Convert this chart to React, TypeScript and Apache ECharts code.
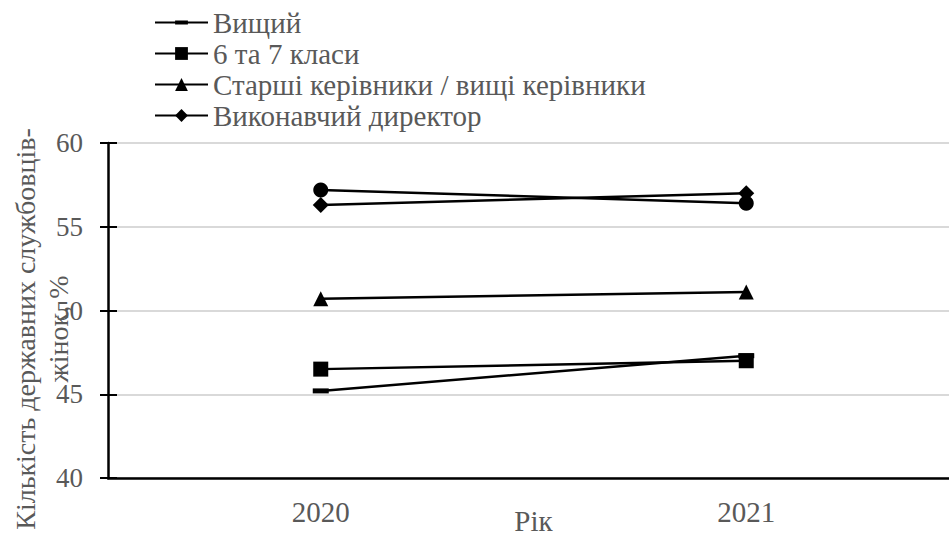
import React, { useEffect, useRef } from "react";
import * as echarts from "echarts";

const years = ["2020", "2021"];
const seriesNames = [
  "Вищий",
  "6 та 7 класи",
  "Старші керівники / вищі керівники",
  "Виконавчий директор",
];
const vyshchyi = [45.2, 47.3];
const klasy67 = [46.5, 47.0];
const starshi = [50.7, 51.1];
const vykonavchyi = [56.3, 57.0];
const kruh = [57.2, 56.4];
const yTitle = "Кількість державних службовців-\nжінок, %";
const xTitle = "Рік";

const FONT = "Liberation Serif";
const GREY = "#595959";
const DASH = "path://M0,-5.5 L0,-5.5 M0,0 H16 V5 H0 Z M16,10.5 L16,10.5";

export default function App() {
  const ref = useRef<HTMLDivElement>(null);
  useEffect(() => {
    if (!ref.current) return;
    const chart = echarts.init(ref.current, null, { renderer: "svg" });
    const lineStyle = { color: "#000", width: 2.5 };
    const mk = (name: string, data: number[], symbol: string, size: any) => ({
      name,
      type: "line",
      data,
      symbol,
      symbolSize: size,
      showSymbol: true,
      lineStyle,
      itemStyle: { color: "#000" },
      xAxisIndex: 0,
      yAxisIndex: 0,
      z: 5,
    });
    chart.setOption({
      animation: false,
      backgroundColor: "#fff",
      textStyle: { fontFamily: FONT },
      grid: { left: 108, right: -10, top: 143, bottom: 57, containLabel: false, outerBoundsMode: "none" },
      legend: {
        data: seriesNames,
        orient: "vertical",
        left: 149,
        top: 3,
        itemWidth: 53,
        itemHeight: 16,
        itemGap: 2,
        textStyle: { fontSize: 29, color: GREY, fontFamily: FONT, lineHeight: 29 },
      },
      xAxis: [
        {
          type: "category",
          data: years,
          boundaryGap: true,
          name: xTitle,
          nameLocation: "middle",
          nameGap: 28,
          nameMoveOverlap: false,
          nameTextStyle: { fontSize: 29, color: GREY, fontFamily: FONT, lineHeight: 29 },
          axisLine: { lineStyle: { color: "#000", width: 2.5 } },
          axisTick: { alignWithLabel: true, length: 6, lineStyle: { color: "#000", width: 2 } },
          axisLabel: { fontSize: 29, color: GREY, fontFamily: FONT, margin: 19 },
          splitLine: { show: false },
          z: 10,
        },
        {
          type: "category",
          data: years,
          boundaryGap: true,
          position: "bottom",
          axisLine: { show: false },
          axisTick: { inside: true, alignWithLabel: true, length: 6, lineStyle: { color: "#000", width: 2 } },
          axisLabel: { show: false },
          splitLine: { show: false },
          z: 10,
        },
      ],
      yAxis: [
        {
          type: "value",
          min: 40,
          max: 60,
          interval: 5,
          axisLine: { show: true, lineStyle: { color: "#000", width: 2.5 } },
          axisTick: { show: true, length: 8, lineStyle: { color: "#000", width: 2 } },
          axisLabel: { fontSize: 27, color: GREY, fontFamily: FONT, margin: 25 },
          splitLine: { show: true, lineStyle: { color: "#d9d9d9", width: 2 } },
          z: 10,
        },
        {
          type: "value",
          min: 40,
          max: 60,
          interval: 5,
          position: "left",
          axisLine: { show: false },
          axisTick: { show: true, inside: true, length: 9, lineStyle: { color: "#000", width: 2 } },
          axisLabel: { show: false },
          splitLine: { show: false },
          z: 10,
        },
      ],
      graphic: [
        {
          type: "text",
          x: 42,
          y: 329,
          rotation: Math.PI / 2,
          style: {
            text: yTitle,
            fontSize: 28,
            lineHeight: 33,
            fill: GREY,
            fontFamily: FONT,
            align: "center",
            verticalAlign: "middle",
          },
        },
      ],
      series: [
        mk("Кругові", kruh, "circle", 15),
        mk(seriesNames[0], vyshchyi, DASH, 16),
        mk(seriesNames[1], klasy67, "rect", 15),
        mk(seriesNames[2], starshi, "triangle", 15),
        mk(seriesNames[3], vykonavchyi, "diamond", 16),
      ],
    });
    return () => chart.dispose();
  }, []);
  return <div ref={ref} style={{ width: 949, height: 535, position: "fixed", left: 0, top: 0 }} />;
}
